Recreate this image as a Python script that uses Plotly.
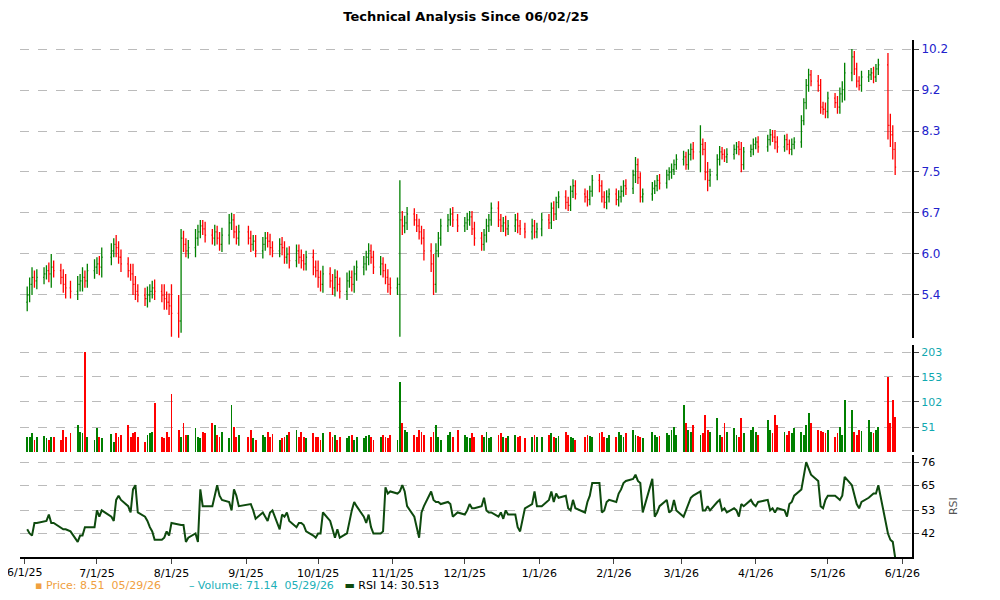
import pandas as pd
import plotly.graph_objects as go
from plotly.subplots import make_subplots

# trading days 6/2/25 - 5/29/26
holidays = ["2025-06-19", "2025-07-04", "2025-09-01", "2025-11-27", "2025-12-25",
            "2026-01-01", "2026-01-19", "2026-02-16", "2026-04-03", "2026-05-25"]
dates = [d for d in pd.bdate_range("2025-06-02", "2026-05-29") if d.strftime("%Y-%m-%d") not in holidays]

close = [
    # jun
    5.45, 5.6, 5.7, 5.65, 5.7, 5.75, 5.8, 5.75, 5.85, 5.8, 5.7, 5.6, 5.55, 5.5, 5.6, 5.65, 5.7, 5.65, 5.8, 5.85,
    # jul
    5.9, 5.85, 6.0, 6.1, 6.2, 6.15, 6.0, 5.9, 5.8, 5.75, 5.6, 5.5, 5.45, 5.4, 5.45, 5.5, 5.55, 5.5, 5.45, 5.4, 5.35, 5.3,
    # aug
    5.2, 5.1, 6.3, 6.2, 6.1, 6.15, 6.3, 6.4, 6.5, 6.45, 6.35, 6.3, 6.4, 6.3, 6.2, 6.35, 6.55, 6.6, 6.4, 6.3, 6.4,
    # sep
    6.3, 6.2, 6.25, 6.1, 6.2, 6.3, 6.25, 6.15, 6.1, 6.2, 6.15, 6.0, 6.05, 5.95, 6.1, 6.0, 5.95, 5.9, 6.0, 5.85, 5.8,
    # oct
    5.7, 5.6, 5.75, 5.65, 5.55, 5.7, 5.6, 5.5, 5.65, 5.7, 5.6, 5.75, 5.85, 5.9, 6.0, 6.1, 6.0, 5.85, 5.9, 5.8, 5.7, 5.6, 5.55,
    # nov
    5.6, 6.6, 6.5, 6.55, 6.7, 6.6, 6.5, 6.4, 6.3, 6.1, 5.9, 5.6, 6.1, 6.3, 6.5, 6.6, 6.7, 6.6, 6.5,
    # dec
    6.55, 6.6, 6.65, 6.45, 6.3, 6.2, 6.35, 6.5, 6.6, 6.8, 6.6, 6.5, 6.55, 6.45, 6.5, 6.6, 6.5, 6.45, 6.4, 6.5, 6.4, 6.45,
    # jan
    6.6, 6.55, 6.8, 6.7, 6.9, 7.0, 6.9, 6.85, 7.1, 7.2, 7.05, 7.0, 6.95, 7.1, 7.3, 7.2, 7.0, 6.9, 7.0, 7.05,
    # feb
    6.95, 7.0, 7.1, 7.2, 7.15, 7.4, 7.6, 7.35, 7.0, 7.05, 7.15, 7.2, 7.3, 7.25, 7.4, 7.45, 7.5, 7.6, 7.7,
    # mar
    7.75, 7.6, 7.8, 7.9, 7.85, 8.0, 7.9, 7.45, 7.3, 7.4, 7.7, 7.85, 7.8, 7.75, 7.8, 7.9, 7.95, 7.9, 7.6, 7.85, 7.9, 8.0,
    # apr
    8.05, 7.95, 8.1, 8.2, 8.15, 8.05, 7.95, 8.1, 8.0, 7.9, 8.0, 8.05, 8.5, 8.9, 9.3, 9.55, 9.4, 9.3, 8.8, 8.75, 8.7,
    # may
    9.0, 8.9, 8.8, 9.1, 9.2, 9.6, 10.0, 9.7, 9.4, 9.3, 9.5, 9.55, 9.6, 9.5, 9.7, 9.8, 8.4, 8.2, 7.9, 7.55,
]

first_open = 5.35

wick = [
    0.12, 0.1, 0.15, 0.1, 0.12, 0.1, 0.08, 0.12, 0.2, 0.1, 0.1, 0.12, 0.15, 0.1, 0.12, 0.1, 0.15, 0.1, 0.1, 0.12,
    0.1, 0.12, 0.15, 0.12, 0.1, 0.15, 0.1, 0.12, 0.1, 0.1, 0.15, 0.12, 0.1, 0.1, 0.12, 0.1, 0.1, 0.12, 0.1, 0.15, 0.1, 0.12,
    0.3, 0.25, 0.15, 0.12, 0.1, 0.12, 0.15, 0.12, 0.1, 0.1, 0.12, 0.1, 0.12, 0.1, 0.1, 0.12, 0.15, 0.12, 0.1, 0.1, 0.12,
    0.1, 0.12, 0.1, 0.1, 0.12, 0.1, 0.1, 0.12, 0.1, 0.1, 0.12, 0.1, 0.1, 0.12, 0.1, 0.1, 0.12, 0.1, 0.1, 0.12, 0.1,
    0.15, 0.1, 0.12, 0.1, 0.1, 0.12, 0.1, 0.1, 0.12, 0.1, 0.1, 0.12, 0.1, 0.12, 0.1, 0.12, 0.1, 0.1, 0.12, 0.1, 0.1, 0.12, 0.1,
    0.1, 0.7, 0.15, 0.12, 0.12, 0.1, 0.1, 0.12, 0.1, 0.15, 0.12, 0.15, 0.12, 0.1, 0.12, 0.1, 0.1, 0.12, 0.1,
    0.1, 0.12, 0.1, 0.1, 0.12, 0.1, 0.1, 0.12, 0.1, 0.1, 0.12, 0.1, 0.1, 0.12, 0.1, 0.1, 0.12, 0.1, 0.1, 0.12, 0.1, 0.1,
    0.12, 0.1, 0.1, 0.12, 0.1, 0.1, 0.12, 0.1, 0.1, 0.12, 0.1, 0.1, 0.12, 0.1, 0.1, 0.12, 0.1, 0.1, 0.12, 0.1,
    0.1, 0.12, 0.1, 0.1, 0.12, 0.1, 0.15, 0.12, 0.1, 0.1, 0.12, 0.1, 0.1, 0.12, 0.1, 0.1, 0.12, 0.1, 0.1,
    0.12, 0.1, 0.1, 0.12, 0.15, 0.4, 0.12, 0.15, 0.2, 0.12, 0.1, 0.12, 0.1, 0.1, 0.12, 0.1, 0.1, 0.12, 0.15, 0.1, 0.1, 0.12,
    0.1, 0.12, 0.1, 0.12, 0.1, 0.15, 0.12, 0.1, 0.12, 0.1, 0.12, 0.1, 0.12, 0.1, 0.15, 0.15, 0.12, 0.15, 0.15, 0.12, 0.15,
    0.15, 0.12, 0.15, 0.15, 0.2, 0.25, 0.2, 0.15, 0.15, 0.12, 0.15, 0.12, 0.12, 0.15, 0.12, 0.15, 0.3, 0.25, 0.2, 0.15,
]

volume = [
    30, 30, 38, 25, 30, 33, 28, 25, 30, 30, 25, 45, 30, 38, 55, 40, 38, 203, 30, 25,
    48, 30, 28, 36, 20, 38, 30, 35, 55, 30, 38, 40, 30, 20, 35, 38, 40, 100, 30, 28, 40, 30,
    118, 45, 30, 60, 35, 35, 48, 30, 28, 40, 38, 60, 55, 35, 30, 40, 28, 95, 50, 30, 35,
    30, 45, 28, 25, 35, 30, 40, 30, 36, 25, 28, 30, 35, 40, 45, 30, 40, 30, 28, 38, 30,
    30, 25, 38, 40, 30, 35, 25, 30, 28, 32, 34, 25, 30, 28, 32, 35, 30, 25, 30, 35, 30, 28, 35,
    25, 143, 60, 45, 40, 35, 30, 45, 40, 35, 30, 40, 55, 30, 25, 35, 40, 30, 45,
    35, 30, 28, 38, 30, 35, 30, 40, 28, 30, 35, 38, 30, 28, 32, 35, 30, 33, 28, 30, 35, 30,
    30, 35, 38, 30, 28, 32, 40, 35, 30, 28, 25, 30, 35, 32, 30, 38, 40, 30, 28, 35,
    30, 40, 35, 30, 38, 45, 35, 33, 30, 28, 40, 35, 30, 32, 38, 35, 45, 50, 35,
    95, 60, 45, 40, 55, 35, 38, 75, 45, 40, 70, 35, 30, 60, 40, 48, 35, 30, 70, 38, 45, 50,
    40, 35, 65, 45, 38, 75, 55, 40, 35, 42, 38, 48, 40, 35, 55, 80, 60, 45, 42, 40, 38,
    45, 30, 38, 50, 35, 105, 85, 40, 35, 45, 42, 65, 40, 38, 45, 50, 153, 60, 105, 72,
]

rsi = [
    44, 42, 41, 47, 47, 48, 48, 51, 47, 47, 45, 44, 44, 43, 38, 41, 41, 45, 45, 45,
    53, 50, 53, 50, 48, 58, 60, 58, 55, 52, 63, 65, 52, 50, 48, 45, 43, 39, 39, 40, 43, 41,
    47, 46, 46, 46, 38, 40, 42, 38, 63, 55, 55, 55, 60, 65, 60, 58, 57, 53, 63, 60, 55,
    56, 56, 53, 49, 52, 50, 48, 52, 53, 44, 51, 50, 52, 48, 45, 47, 47, 46, 43, 41, 40,
    42, 42, 52, 48, 44, 40, 44, 40, 42, 48, 53, 57, 55, 50, 47, 51, 45, 42, 42, 43, 64, 61, 62,
    61, 62, 65, 62, 55, 50, 45, 40, 52, 55, 62, 58, 57, 57, 56, 57, 56, 50, 52,
    51, 53, 56, 54, 54, 55, 59, 53, 52, 52, 50, 52, 49, 53, 51, 51, 45, 43, 54, 56, 62, 55,
    55, 58, 62, 57, 61, 59, 60, 54, 53, 58, 54, 52, 57, 60, 66, 66, 52, 53, 57, 58,
    57, 61, 63, 66, 67, 68, 70, 67, 66, 52, 68, 50, 52, 55, 58, 52, 53, 58, 53,
    50, 53, 57, 59, 60, 62, 53, 53, 55, 53, 57, 58, 53, 54, 52, 54, 53, 50, 56, 55, 58, 56,
    55, 57, 58, 53, 54, 52, 54, 53, 50, 56, 57, 60, 63, 70, 76, 73, 70, 67, 55, 54, 58,
    60, 60, 59, 58, 60, 69, 65, 60, 56, 54, 57, 59, 60, 61, 61, 65, 42, 39, 38, 30.5,
]

price_ticks = [10.2 / 1.11 ** k for k in range(7)]
price_labels = ["10.2", "9.2", "8.3", "7.5", "6.7", "6.0", "5.4"]
vol_ticks = [51, 102, 153, 203]
rsi_ticks = [42, 53, 65, 76]
month_ticks = pd.date_range("2025-06-01", "2026-06-01", freq="MS")

opens = [first_open] + close[:-1]
highs = [max(o, c) + w for o, c, w in zip(opens, close, wick)]
lows = [min(o, c) - w for o, c, w in zip(opens, close, wick)]
bar_colors = ["#008000" if c >= o else "#ff0000" for o, c in zip(opens, close)]

GREEN = "#008000"
RED = "#ff0000"

fig = make_subplots(rows=3, cols=1, shared_xaxes=True, vertical_spacing=0.0)

fig.add_trace(go.Ohlc(x=dates, open=opens, high=highs, low=lows, close=close,
                      increasing=dict(line=dict(color=GREEN, width=1.3)),
                      decreasing=dict(line=dict(color=RED, width=1.3)),
                      tickwidth=0.4, showlegend=False, hoverinfo="skip"), row=1, col=1)
fig.add_trace(go.Bar(x=dates, y=volume, marker_color=bar_colors, marker_line_width=0,
                     width=86400000 * 0.35, showlegend=False), row=2, col=1)
fig.add_trace(go.Scatter(x=dates, y=rsi, mode="lines", line=dict(color="#0e4a0e", width=2),
                         showlegend=False), row=3, col=1)

grid = dict(showgrid=True, gridcolor="#bbbbbb", griddash="dash", gridwidth=1)
fig.update_layout(
    width=1000, height=600, plot_bgcolor="white", paper_bgcolor="white",
    margin=dict(l=12, r=96, t=32, b=51),
    font=dict(family="DejaVu Sans", size=11, color="#000"),
    title=dict(text="<b>Technical Analysis Since 06/02/25</b>", x=0.5, xref="paper", y=0.993,
               xanchor="center", yanchor="top", font=dict(size=13)),
    bargap=0,
    xaxis=dict(rangeslider=dict(visible=False)),
)
fig.update_xaxes(range=["2025-05-30", "2026-06-05"], showgrid=False, automargin=False)
fig.update_xaxes(tickvals=month_ticks, tickformat="%-m/%-d/%y", ticks="outside",
                 showline=True, linecolor="#000", linewidth=2, row=3, col=1)

fig.update_yaxes(type="log", side="right", range=[0.689, 1.0187], tickvals=price_ticks,
                 ticktext=price_labels, tickfont=dict(color="#2222cc", size=12), ticks="outside",
                 showline=True, linecolor="#000", linewidth=2, domain=[0.424, 1], automargin=False,
                 row=1, col=1, **grid)
fig.update_yaxes(side="right", range=[0, 218], tickvals=vol_ticks, tickfont=dict(color="#10a8b0"),
                 ticks="outside", showline=True, linecolor="#000", linewidth=2, automargin=False,
                 domain=[0.203, 0.41], row=2, col=1, **grid)
fig.update_yaxes(side="right", range=[30.8, 79.3], tickvals=rsi_ticks, ticks="outside",
                 showline=True, linecolor="#000", linewidth=2, domain=[0, 0.197], automargin=False,
                 title=dict(text="RSI", font=dict(size=11, color="#555")), row=3, col=1, **grid)

# first month label gets clipped by plotly, so draw it as an annotation
fig.add_annotation(xref="x3", yref="paper", x=month_ticks[0], y=0, yanchor="top", yshift=-7,
                   showarrow=False, text=month_ticks[0].strftime("%-m/%-d/%y"))
fig.add_annotation(xref="paper", yref="paper", x=0.015, y=-0.056, xanchor="left", yanchor="middle",
                   showarrow=False,
                   text="<span style='color:#f0a040'>▪ Price: 8.51  05/29/26</span>        "
                        "<span style='color:#20b0b8'>– Volume: 71.14  05/29/26</span>   "
                        "<span style='color:#0e4a0e'>▬</span> RSI 14: 30.513")
fig.add_shape(type="line", xref="paper", yref="paper", x0=-0.021, x1=-0.021, y0=-0.09, y1=1.08,
              line=dict(color="#888", width=2))

fig.write_html("out.html")
